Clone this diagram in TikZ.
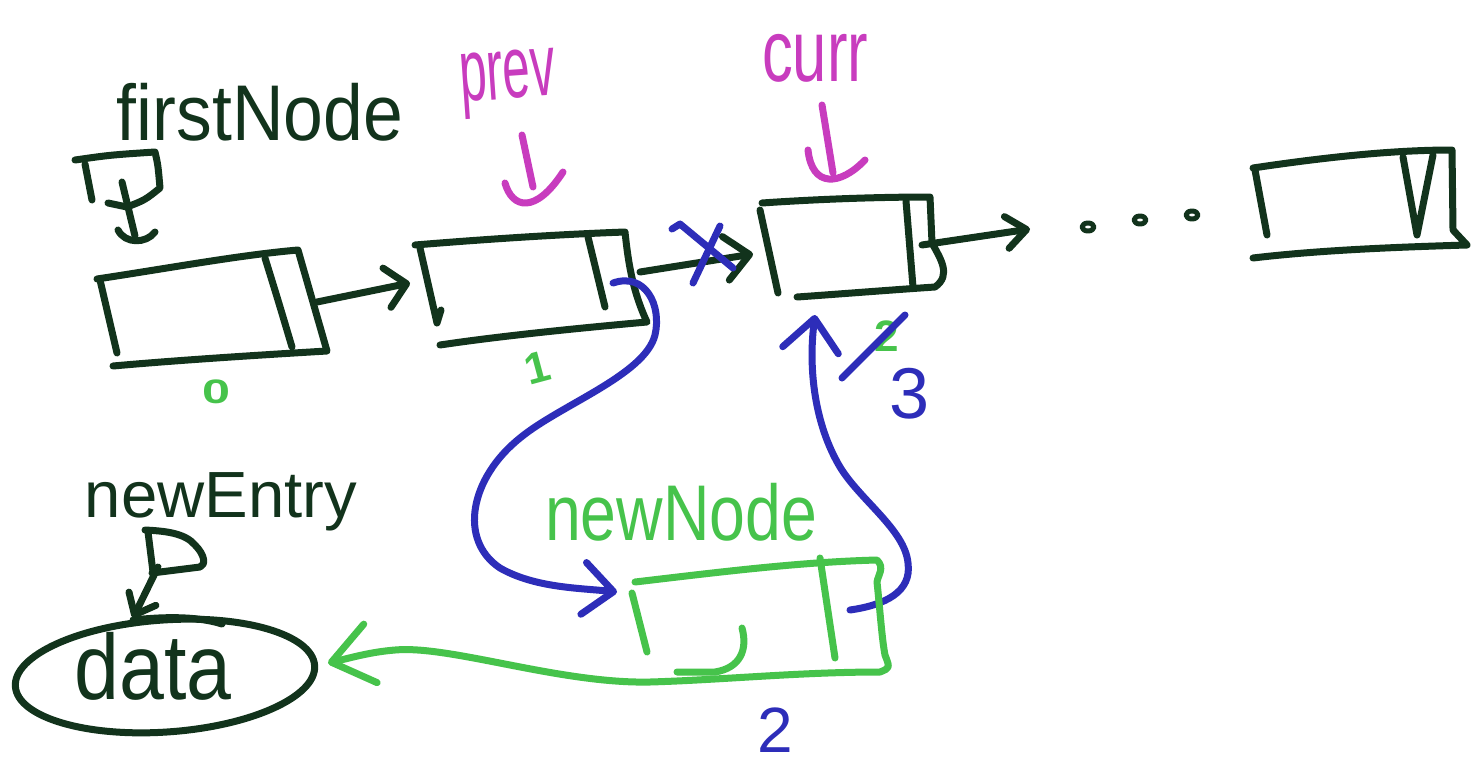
\documentclass[tikz,border=0pt]{standalone}
\usepackage{fontspec}
\usepackage{graphicx}
\setmainfont{Liberation Sans}
\usetikzlibrary{arrows.meta,shapes.geometric}
\definecolor{ink}{HTML}{12331C}
\definecolor{mag}{HTML}{C83CBE}
\definecolor{blu}{HTML}{2D2DB9}
\definecolor{grn}{HTML}{46C34B}
\tikzset{
  pen/.style={line width=7pt, line cap=round, line join=round},
  inkpen/.style={pen, draw=ink},
  magpen/.style={pen, draw=mag},
  blupen/.style={pen, draw=blu},
  grnpen/.style={pen, draw=grn},
  hand/.style={inner sep=0pt, outer sep=0pt},
}
\begin{document}
\begin{tikzpicture}[x=1pt,y=-1pt]
\useasboundingbox (0,0) rectangle (1479,763);
\fill[white] (0,0) rectangle (1479,763);

% ---------- named points ----------
\coordinate (fnptr) at (122,182);
\coordinate (b0top) at (135,236);
\coordinate (b0next) at (317,302);
\coordinate (b1in) at (410,283);
\coordinate (b1next) at (640,272);
\coordinate (b1ptr) at (613,283);
\coordinate (b2in) at (753,254);
\coordinate (b2next) at (922,245);
\coordinate (b2bot) at (815,315);
\coordinate (dots) at (1030,229);
\coordinate (nnin) at (617,592);
\coordinate (nnptr) at (850,610);
\coordinate (dataR) at (328,663);
\coordinate (neptr) at (158,567);
\coordinate (datatop) at (133,618);

% ---------- labels ----------
\node[hand, text=ink] (fnlbl) at (260,112) {\resizebox*{286pt}{58pt}{firstNode}};
\node[hand, text=mag, rotate=4] (prevlbl) at (508,84) {\resizebox*{96pt}{66pt}{prev}};
\node[hand, text=mag] (currlbl) at (815,58) {\resizebox*{106pt}{48pt}{curr}};
\node[hand, text=ink] (nelbl) at (221,502) {\resizebox{272pt}{!}{newEntry}};
\node[hand, text=grn] (nnlbl) at (681,512) {\resizebox*{272pt}{58pt}{newNode}};
\node[hand, text=grn] (i0) at (216,392) {\resizebox*{28pt}{24pt}{\bfseries 0}};
\node[hand, text=grn, font=\fontsize{44}{44}\selectfont\bfseries, rotate=15] (i1) at (537,368) {1};
\node[hand, text=grn, font=\fontsize{44}{44}\selectfont\bfseries] (i2) at (887,336) {2};
\node[hand, text=blu, font=\fontsize{72}{72}\selectfont] (i3) at (910,394) {3};
\node[hand, text=blu, font=\fontsize{64}{64}\selectfont] (s2) at (775,730) {2};

% ---------- firstNode pointer ----------
\draw[inkpen] (85,164) -- (92,200);
\draw[inkpen] (75,160) .. controls (110,155) .. (155,152) .. controls (158,165) .. (160,188)
  .. controls (145,200) .. (127,207) -- (108,203);
\draw[inkpen] (fnptr) -- (b0top);
\draw[inkpen] (118,230) .. controls (125,244) and (146,244) .. (155,232);

% ---------- node 0 ----------
\draw[inkpen] (97,279) .. controls (170,268) and (240,255) .. (298,250) -- (327,351)
  .. controls (260,355) and (180,360) .. (113,366);
\draw[inkpen] (100,280) -- (117,353);
\draw[inkpen] (265,258) .. controls (278,300) .. (292,347);
\draw[inkpen, -{Straight Barb[length=20pt,width=40pt,round]}] (b0next) -- (b1in);

% ---------- node 1 (prev) ----------
\draw[inkpen] (415,245) .. controls (500,238) and (570,234) .. (625,232)
  .. controls (628,260) and (632,290) .. (647,322)
  .. controls (580,328) and (500,336) .. (440,345);
\draw[inkpen] (420,248) -- (437,323) -- (441,310);
\draw[inkpen] (588,237) -- (605,307);
\draw[inkpen, -{Straight Barb[length=24pt,width=44pt,round]}] (b1next) -- (b2in);
\draw[blupen] (672,229) -- (680,224) -- (733,268);
\draw[blupen] (720,226) -- (693,283);

% prev arrow
\draw[magpen] (522,135) -- (533,187);
\draw[magpen] (505,183) .. controls (512,208) and (535,215) .. (563,172);

% ---------- node 2 (curr) ----------
\draw[inkpen] (762,203) .. controls (820,199) and (880,197) .. (930,197)
  .. controls (931,220) .. (932,243) .. controls (940,258) and (952,275) .. (935,287)
  .. controls (890,290) and (840,294) .. (797,297);
\draw[inkpen] (760,210) -- (778,293);
\draw[inkpen] (906,201) -- (913,287);
\draw[inkpen, -{Straight Barb[length=20pt,width=32pt,round]}] (b2next) -- (dots);

% curr arrow
\draw[magpen] (822,105) -- (833,173);
\draw[magpen] (808,150) .. controls (812,188) and (840,186) .. (865,160);

% crossed-out index
\draw[blupen] (905,315) -- (842,378);

% ---------- dots and last node ----------
\foreach \px/\py in {1088/227, 1140/220, 1192/215}
  \draw[inkpen, line width=5pt] (\px,\py) ellipse [x radius=6, y radius=4];
\draw[inkpen] (1253,168) .. controls (1320,158) and (1390,150) .. (1452,150)
  .. controls (1452,190) .. (1453,230) -- (1467,245)
  .. controls (1400,247) and (1320,250) .. (1253,258);
\draw[inkpen] (1255,170) -- (1267,235);
\draw[inkpen] (1403,157) -- (1417,235) -- (1433,155);

% ---------- blue link 1: prev.next -> newNode ----------
\draw[blupen, -{Straight Barb[length=30pt,width=52pt,round]}]
  (b1ptr) .. controls (645,272) and (662,305) .. (655,335)
  .. controls (645,375) and (560,405) .. (520,438)
  .. controls (470,478) and (458,540) .. (500,568)
  .. controls (535,588) and (580,588) .. (nnin);

% ---------- blue link 3: newNode.next -> curr ----------
\draw[blupen, -{Straight Barb[length=32pt,width=56pt,round]}]
  (nnptr) .. controls (885,605) and (912,592) .. (908,563)
  .. controls (905,530) and (860,500) .. (840,467)
  .. controls (815,425) and (808,370) .. (b2bot);

% ---------- newNode box and link to data ----------
\draw[grnpen, -{Straight Barb[length=40pt,width=60pt,round]}]
  (635,582) .. controls (720,572) and (800,562) .. (877,560)
  .. controls (885,568) and (878,575) .. (877,582)
  .. controls (880,610) and (882,640) .. (885,655)
  .. controls (890,668) .. (880,672)
  .. controls (800,672) and (720,680) .. (650,682)
  .. controls (560,684) and (450,645) .. (395,650)
  .. controls (370,652) and (350,658) .. (dataR);
\draw[grnpen] (632,593) -- (647,652);
\draw[grnpen] (742,628) .. controls (748,650) and (740,668) .. (715,672) -- (677,672);
\draw[grnpen] (820,558) -- (835,658);

% ---------- newEntry pointer and data ----------
\draw[inkpen] (148,532) -- (153,572);
\draw[inkpen] (145,530) .. controls (165,531) and (185,533) .. (195,545)
  .. controls (205,555) and (206,565) .. (200,567) -- (152,573);
\draw[inkpen, -{Straight Barb[length=18pt,width=30pt,round]}] (neptr) -- (datatop);
\node[ellipse, draw=ink, pen, minimum width=300pt, minimum height=112pt, inner sep=0pt, rotate=4] (data) at (165,676) {};
\draw[inkpen] (133,620) .. controls (170,616) and (200,617) .. (222,624);
\node[hand, text=ink] (datalbl) at (153,666) {\resizebox*{157pt}{68pt}{data}};
\end{tikzpicture}
\end{document}
